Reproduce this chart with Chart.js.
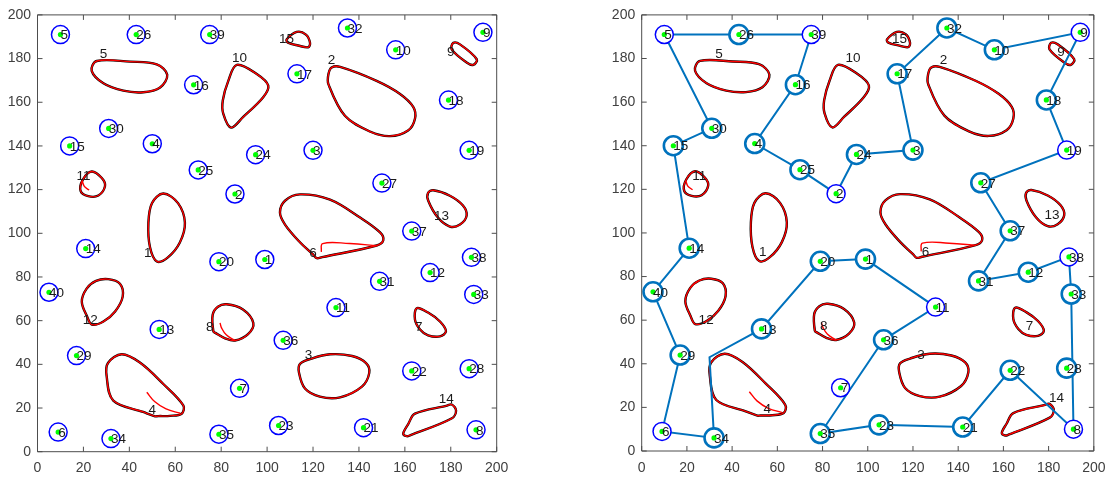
<!DOCTYPE html>
<html>
<head>
<meta charset="utf-8">
<script src="https://cdn.jsdelivr.net/npm/chart.js@4.4.0/dist/chart.umd.min.js"></script>
<style>
body { margin: 0; background: #fff; }
#wrap { position: relative; width: 1114px; height: 480px; }
canvas { position: absolute; top: 0; }
</style>
</head>
<body>
<div id="wrap">
<canvas id="leftChart" width="520" height="480" style="left:0px"></canvas>
<canvas id="rightChart" width="514" height="480" style="left:600px"></canvas>
</div>
<script>
// target nodes (id, x, y)
const nodeIds = [1,2,3,4,5,6,7,8,9,10,11,12,13,14,15,16,17,18,19,20,21,22,23,24,25,26,27,28,29,30,31,32,33,34,35,36,37,38,39,40];
const nodeX = [99,86,120,50,10,9,88,191,194,156,130,171,53,21,14,68,113,179,188,79,142,163,105,95,70,43,150,188,17,31,149,135,190,32,79,107,163,189,75,5];
const nodeY = [88,118,138,141,191,9,29,10,192,184,66,82,56,93,140,168,173,161,138,87,11,37,12,136,129,191,123,38,44,148,78,194,72,6,8,51,101,89,191,73];

// obstacles: outline vertices
const obstacleIds = [1,2,3,4,5,6,7,8,9,10,11,12,13,14,15];
const obstacleX = [
  [54.8,61.2,64.2,62,56.8,52,49,48.3,49.9],
  [128.1,131.8,147.7,157.9,163.7,164.4,161.4,153.5,144.8,133.9,126.7,126.7],
  [127.4,137,143.1,144.5,141.3,131.8,123,116.5,113.9,114.3,118.7],
  [36.7,44.6,54.8,63.5,62.8,57.7,52.5,51.2,46,33,30.1,30.7],
  [23.6,25.8,40.3,51.9,56.5,53.4,46.1,37.4,28.7],
  [114.3,127.4,140.5,149.2,150.6,147.7,124,121.6,120,114.3,107.8,105.6,107.8],
  [165.2,170.1,175.3,177.9,175.3,170.1,166.6,164.4],
  [82.4,89.5,94,91.7,86,81.7,77.5,76.6,76.3,78.6],
  [181.1,184,191.3,189.8,186.9,180.4],
  [86.8,95.5,100.5,98.3,89.6,84.3,80.9,80.7,83.1],
  [23.6,28,29.4,26.5,22.1,18.8,19.7],
  [30.8,35.9,37.1,33.8,28.7,23.7,21.6,19.3,21.4,25.5],
  [172.4,179.6,185.3,186.9,184,179.6,174.4,170.2,170.1],
  [164.4,178,180.4,182.3,180.5,162.5,160.8,159.3,161.4],
  [108.5,112.9,116.9,118.7,117.9,113.5,109.1]
];
const obstacleY = [
  [118.2,113.8,104.8,95.8,89,87.1,93.6,104.9,113.9],
  [175.9,176.2,169.8,163.8,157.8,152.5,147.1,144.5,146.6,153.8,168.3,172.8],
  [44.6,43.8,40.6,36.1,29.8,24.9,25.2,28.9,36.1,40.2,42.4],
  [44.6,40.8,31,21.2,17.4,16.4,16.3,16.2,18.2,23.4,34.7,40.6],
  [174.4,178.9,178.6,177.4,172.6,166.8,164.6,165.3,168.7],
  [117.8,115.4,107.2,100.4,96.8,94.4,89.1,88.6,90.3,95.9,104,109.5,114.9],
  [65.7,63.7,59.6,55.1,52.8,53.3,56,60.5],
  [67.5,65.1,58.9,53.8,50.9,51.9,54.4,55.1,62.7,66.4],
  [187.2,186.5,179.7,177.1,178.2,184.2],
  [177.1,172.9,167.6,162.3,153.3,148.4,154.8,160.8,169.8],
  [128.3,125.3,121.6,117.3,117,119.3,124.5],
  [79,76.9,71,64.2,59.6,58.2,61.9,68.7,74.7,78.2],
  [119.7,117.2,112.7,108.1,104,103.1,107.2,114.9,118.5],
  [17.4,21,21.6,18.9,15.3,7.6,7.1,8.3,12.5],
  [188.7,192.2,191,187.2,185.2,186,187.3]
];
const obstacleLabelX = [48,128,118,50,28.7,120,166,75,180,88,20,23,176,178,108.5];
const obstacleLabelY = [91,179,44,19,182,91,57,57,183,180,126,60,108,24,189];

// loose ends of the red fitted curves (open hooks inside some obstacles)
const hookIds = [4,6,8,11];
const hookX = [
  [62.2,56,51,47.6],
  [148,136,124.2,123.6],
  [86,82.2,80.2,79.5],
  [19.5,20.4,22.5]
];
const hookY = [
  [17.6,19.6,23,27.2],
  [94.3,95.3,95.3,91.5],
  [50.9,53.5,56.6,59],
  [124,121.5,119.8]
];

// visiting order of the tour (right plot); 'bend' is a detour corner
const tourStops = [5,26,39,16,4,25,2,24,3,17,32,10,9,18,19,27,37,31,12,38,33,8,22,21,23,35,36,11,1,20,13,'bend',34,6,29,40,14,15,30,5];
const bendX = 30;
const bendY = 43;
const tracedNodes = [26,16,30,15,4,25,24,17,32,10,18,3,37,27,14,40,29,34,20,1,13,36,23,21,22,12,33,28,31,35];

const tickValues = [0,20,40,60,80,100,120,140,160,180,200];

const TOUR_BLUE = '#0072BD';

function nodePoint(id) {
  const i = nodeIds.indexOf(id);
  return { x: nodeX[i], y: nodeY[i] };
}

function obstacleDatasets() {
  const sets = [];
  obstacleIds.forEach((id, k) => {
    const pts = obstacleX[k].map((x, j) => ({ x: x, y: obstacleY[k][j] }));
    const n = pts.length;
    // wrap so every visible piece of the closed curve is smooth
    const loop = [pts[n - 1], ...pts, pts[0], pts[1]];
    const last = loop.length - 2;
    const hideEnds = (color) => ({
      borderColor: ctx => (ctx.p0DataIndex === 0 || ctx.p0DataIndex === last) ? 'rgba(0,0,0,0)' : color
    });
    sets.push({
      data: loop, showLine: true, tension: 0.35, pointRadius: 0,
      borderColor: '#000', borderWidth: 2.4, segment: hideEnds('#000'), order: 60
    });
    sets.push({
      data: loop, showLine: true, tension: 0.35, pointRadius: 0,
      borderColor: '#ff0000', borderWidth: 1.4, segment: hideEnds('#ff0000'), order: 55
    });
  });
  hookIds.forEach((id, k) => {
    sets.push({
      data: hookX[k].map((x, j) => ({ x: x, y: hookY[k][j] })),
      showLine: true, tension: 0.4, pointRadius: 0,
      borderColor: '#ff0000', borderWidth: 1.4, order: 54
    });
  });
  return sets;
}

function buildDatasets(withTour) {
  const sets = obstacleDatasets();
  const all = nodeIds.map(id => nodePoint(id));
  const traced = withTour ? tracedNodes.map(id => nodePoint(id)) : [];
  const plain = nodeIds.filter(id => !withTour || tracedNodes.indexOf(id) < 0).map(id => nodePoint(id));
  if (withTour) {
    const tour = tourStops.map(s => s === 'bend' ? { x: bendX, y: bendY } : nodePoint(s));
    sets.push({
      data: tour, showLine: true, tension: 0, pointRadius: 0,
      borderColor: TOUR_BLUE, borderWidth: 2, order: 40
    });
  }
  sets.push({
    data: plain, pointRadius: 9, pointStyle: 'circle',
    pointBorderColor: '#0000ff', pointBorderWidth: 1.5, pointBackgroundColor: '#ffffff', order: 30
  });
  if (withTour) {
    sets.push({
      data: traced, pointRadius: 9.5, pointStyle: 'circle',
      pointBorderColor: TOUR_BLUE, pointBorderWidth: 2.6, pointBackgroundColor: '#ffffff', order: 20
    });
  }
  sets.push({
    data: all, pointRadius: 2.6, pointBorderWidth: 0,
    pointBackgroundColor: '#00ff00', pointBorderColor: '#00ff00', order: 10
  });
  return sets;
}

const boxPlugin = {
  id: 'boxTicks',
  afterDatasetsDraw(chart) {
    const { ctx, chartArea: a, scales: { x, y } } = chart;
    ctx.save();
    ctx.strokeStyle = '#4d4d4d';
    ctx.lineWidth = 1;
    ctx.beginPath();
    ctx.rect(a.left, a.top, a.right - a.left, a.bottom - a.top);
    tickValues.forEach(v => {
      const px = x.getPixelForValue(v);
      ctx.moveTo(px, a.bottom); ctx.lineTo(px, a.bottom - 5);
      ctx.moveTo(px, a.top); ctx.lineTo(px, a.top + 5);
      const py = y.getPixelForValue(v);
      ctx.moveTo(a.left, py); ctx.lineTo(a.left + 5, py);
      ctx.moveTo(a.right, py); ctx.lineTo(a.right - 5, py);
    });
    ctx.stroke();
    ctx.restore();
  }
};

const textPlugin = {
  id: 'pointText',
  afterDatasetsDraw(chart, args, opts) {
    const { ctx, scales: { x, y } } = chart;
    ctx.save();
    ctx.font = '13.5px "Liberation Sans", Arial, sans-serif';
    ctx.fillStyle = '#1a1a1a';
    ctx.textBaseline = 'middle';
    ctx.textAlign = 'left';
    nodeIds.forEach((id, i) => {
      ctx.fillText(String(id), x.getPixelForValue(nodeX[i]), y.getPixelForValue(nodeY[i]) + 1);
    });
    ctx.textAlign = 'center';
    obstacleIds.forEach((id, k) => {
      ctx.fillText(String(id), x.getPixelForValue(obstacleLabelX[k] + opts.shift), y.getPixelForValue(obstacleLabelY[k]));
    });
    ctx.restore();
  }
};

function makeConfig(withTour, yWidth, xHeight, pad) {
  const font = { family: '"Liberation Sans", Arial, sans-serif', size: 14 };
  return {
    type: 'scatter',
    data: { datasets: buildDatasets(withTour) },
    options: {
      responsive: false,
      animation: false,
      events: [],
      devicePixelRatio: 1,
      layout: { padding: pad },
      plugins: {
        legend: { display: false },
        tooltip: { enabled: false },
        pointText: { shift: withTour ? 5.5 : 0 }
      },
      scales: {
        x: {
          type: 'linear', min: 0, max: 200,
          afterBuildTicks: s => { s.ticks = tickValues.map(v => ({ value: v })); },
          afterFit: s => { s.height = xHeight; },
          grid: { display: false, drawTicks: false },
          border: { display: false },
          ticks: { color: '#404040', font: font, padding: 8.5, maxRotation: 0 }
        },
        y: {
          type: 'linear', min: 0, max: 200,
          afterBuildTicks: s => { s.ticks = tickValues.map(v => ({ value: v })); },
          afterFit: s => { s.width = yWidth; },
          grid: { display: false, drawTicks: false },
          border: { display: false },
          ticks: { color: '#404040', font: font, padding: 6.5 }
        }
      }
    },
    plugins: [boxPlugin, textPlugin]
  };
}

const leftChart = new Chart(
  document.getElementById('leftChart'),
  makeConfig(false, 37.5, 28.3, { top: 10, right: 23.3, left: 0, bottom: 0 })
);

const rightChart = new Chart(
  document.getElementById('rightChart'),
  makeConfig(true, 41.7, 29, { top: 9.3, right: 17.3, left: 0, bottom: 0 })
);
</script>
</body>
</html>
